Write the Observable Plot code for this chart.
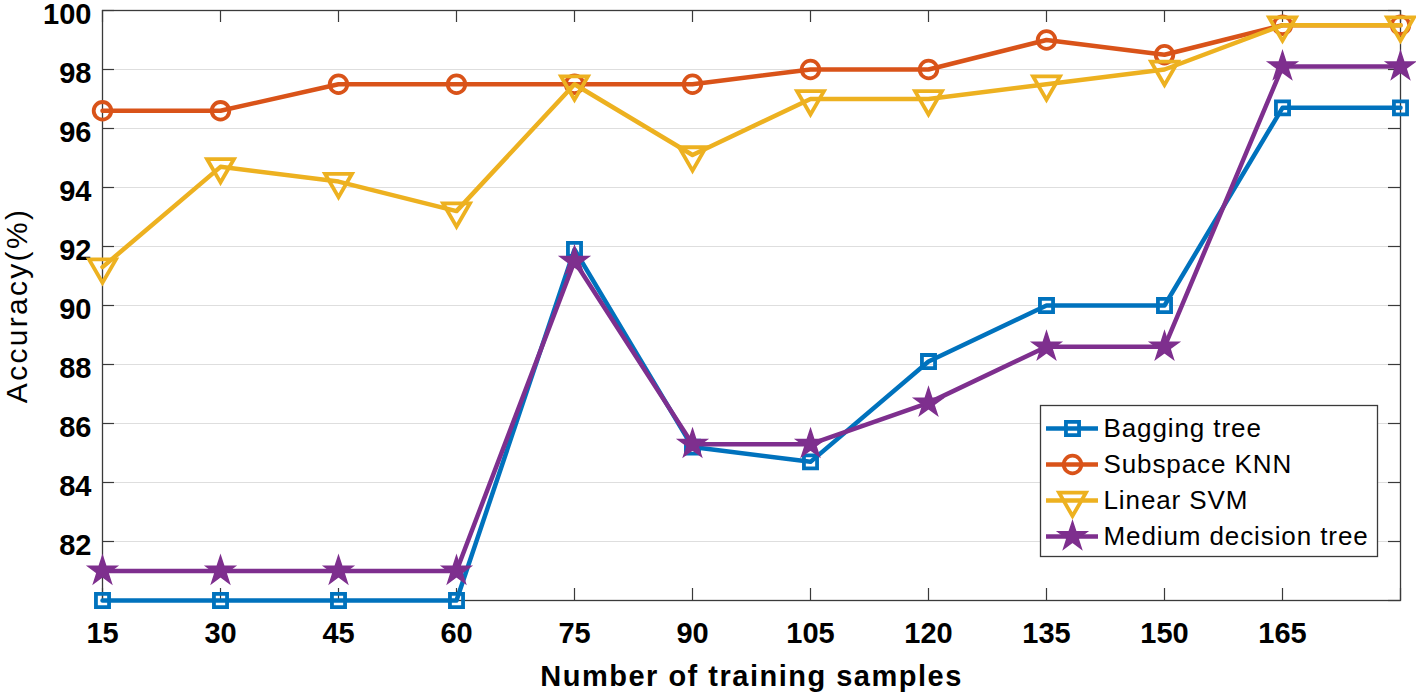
<!DOCTYPE html>
<html><head><meta charset="utf-8">
<script src="https://cdn.jsdelivr.net/npm/d3@7"></script>
<script src="https://cdn.jsdelivr.net/npm/@observablehq/plot@0.6"></script>
<style>
html,body{margin:0;padding:0;background:#fff;}
#wrap{position:relative;width:1416px;height:693px;overflow:hidden;}
#chart,#legend{position:absolute;}
#chart{left:0;top:0;}
#legend{left:1040px;top:405px;}
svg{font-family:"Liberation Sans",Arial,Helvetica,sans-serif;}
.xtitle text{letter-spacing:1.5px;}
.ytitle text{letter-spacing:2.3px;}
.legtext text{letter-spacing:0.9px;}
</style></head><body>
<div id="wrap"><div id="chart"></div><div id="legend"></div></div>
<script>
// ---- data ----
const samples = [15, 30, 45, 60, 75, 90, 105, 120, 135, 150, 165, 180];
const baggingTree = [80.0, 80.0, 80.0, 80.0, 91.9, 85.2, 84.7, 88.1, 90.0, 90.0, 96.7, 96.7];
const subspaceKNN = [96.6, 96.6, 97.5, 97.5, 97.5, 97.5, 98.0, 98.0, 99.0, 98.5, 99.5, 99.5];
const linearSVM = [91.3, 94.7, 94.2, 93.2, 97.5, 95.1, 97.0, 97.0, 97.5, 98.0, 99.5, 99.5];
const mediumTree = [81.0, 81.0, 81.0, 81.0, 91.5, 85.3, 85.3, 86.7, 88.6, 88.6, 98.1, 98.1];
const seriesNames = ["Bagging tree", "Subspace KNN", "Linear SVM", "Medium decision tree"];
const seriesValues = [baggingTree, subspaceKNN, linearSVM, mediumTree];
const seriesColors = ["#0072BD", "#D95319", "#EDB120", "#7E2F8E"];
const xTicks = [15, 30, 45, 60, 75, 90, 105, 120, 135, 150, 165, 180];
const xTickLabels = [15, 30, 45, 60, 75, 90, 105, 120, 135, 150, 165];
const yTicks = [80, 82, 84, 86, 88, 90, 92, 94, 96, 98, 100];
const yTickLabels = [82, 84, 86, 88, 90, 92, 94, 96, 98, 100];
const xTitle = "Number of training samples";
const yTitle = "Accuracy(%)";

// ---- styles ----
const W = 1416, H = 693;
const mL = 102, mR = 16, mT = 10, mB = 93;
const innerW = W - mL - mR, innerH = H - mT - mB;
const tickLen = 12;
const axisColor = "#3a3a3a";
const markerStyles = [
  {symbol: "square", r: 7.4, fill: "none", strokeWidth: 3.8, rotate: 0},
  {symbol: "circle", r: 8.8, fill: "none", strokeWidth: 3.8, rotate: 0},
  {symbol: "triangle", r: 10, fill: "none", strokeWidth: 3.8, rotate: 180},
  {symbol: "star", r: 9, fill: "solid", strokeWidth: 1.5, rotate: 0}
];

const data = seriesNames.flatMap((name, s) =>
  samples.map((x, i) => ({series: name, s, x, y: seriesValues[s][i]})));

const seriesMarks = seriesNames.flatMap((name, s) => {
  const d = data.filter(r => r.s === s);
  const m = markerStyles[s];
  const c = seriesColors[s];
  return [
    Plot.line(d, {x: "x", y: "y", stroke: c, strokeWidth: 4.5, strokeLinejoin: "round"}),
    Plot.dot(d, {x: "x", y: "y", symbol: m.symbol, r: m.r, stroke: c,
      fill: m.fill === "none" ? "none" : c, strokeWidth: m.strokeWidth, rotate: m.rotate})
  ];
});

const chart = Plot.plot({
  width: W, height: H,
  marginLeft: mL, marginRight: mR, marginTop: mT, marginBottom: mB,
  style: {fontFamily: '"Liberation Sans", Arial, Helvetica, sans-serif', background: "#fff", overflow: "visible"},
  x: {domain: [15, 180], axis: null},
  y: {domain: [80, 100], axis: null},
  marks: [
    Plot.gridY(yTicks.slice(1, -1), {stroke: "#dedede", strokeOpacity: 1, strokeWidth: 1}),
    // inward ticks
    Plot.tickX(xTicks, {x: d => d, stroke: axisColor, strokeWidth: 1.2, insetTop: innerH - tickLen}),
    Plot.tickX(xTicks, {x: d => d, stroke: axisColor, strokeWidth: 1.2, insetBottom: innerH - tickLen}),
    Plot.tickY(yTicks, {y: d => d, stroke: axisColor, strokeWidth: 1.2, insetRight: innerW - tickLen}),
    Plot.tickY(yTicks, {y: d => d, stroke: axisColor, strokeWidth: 1.2, insetLeft: innerW - tickLen}),
    Plot.frame({stroke: axisColor, strokeWidth: 1.3}),
    Plot.axisX(xTickLabels, {anchor: "bottom", tickSize: 0, tickPadding: 22, fontSize: 29, fontWeight: "bold", fill: "#000", label: null}),
    Plot.axisY(yTickLabels, {anchor: "left", tickSize: 0, tickPadding: 11, dy: 4.5, fontSize: 29, fontWeight: "bold", fill: "#000", label: null}),
    ...seriesMarks,
    Plot.text([xTitle], {frameAnchor: "bottom", dy: 85, fontSize: 29, fontWeight: "bold", fill: "#000", className: "xtitle"}),
    Plot.text([yTitle], {frameAnchor: "left", textAnchor: "middle", dx: -85, dy: 0, rotate: -90, fontSize: 30, fill: "#000", className: "ytitle"})
  ]
});
document.getElementById("chart").append(chart);

// ---- legend (also Plot) ----
const LW = 337, LH = 151;
const legendMarks = seriesNames.flatMap((name, s) => {
  const m = markerStyles[s], c = seriesColors[s];
  return [
    Plot.ruleY([name], {y: d => d, x1: 6, x2: 58, stroke: c, strokeWidth: 4.5}),
    Plot.dot([name], {y: d => d, x: 32, symbol: m.symbol, r: m.r, stroke: c,
      fill: m.fill === "none" ? "none" : c, strokeWidth: m.strokeWidth, rotate: m.rotate}),
    Plot.text([name], {y: d => d, x: 63, text: d => d, textAnchor: "start", fontSize: 26, fill: "#000", className: "legtext"})
  ];
});
const legend = Plot.plot({
  width: LW, height: LH, margin: 0,
  style: {fontFamily: '"Liberation Sans", Arial, Helvetica, sans-serif', background: "#fff", overflow: "visible"},
  x: {domain: [0, LW], range: [0, LW], axis: null},
  y: {type: "point", domain: seriesNames, range: [22, 132], padding: 0, axis: null},
  marks: [
    Plot.frame({stroke: "#3a3a3a", strokeWidth: 1.3, fill: "#fff"}),
    ...legendMarks
  ]
});
document.getElementById("legend").append(legend);
</script>
</body></html>
